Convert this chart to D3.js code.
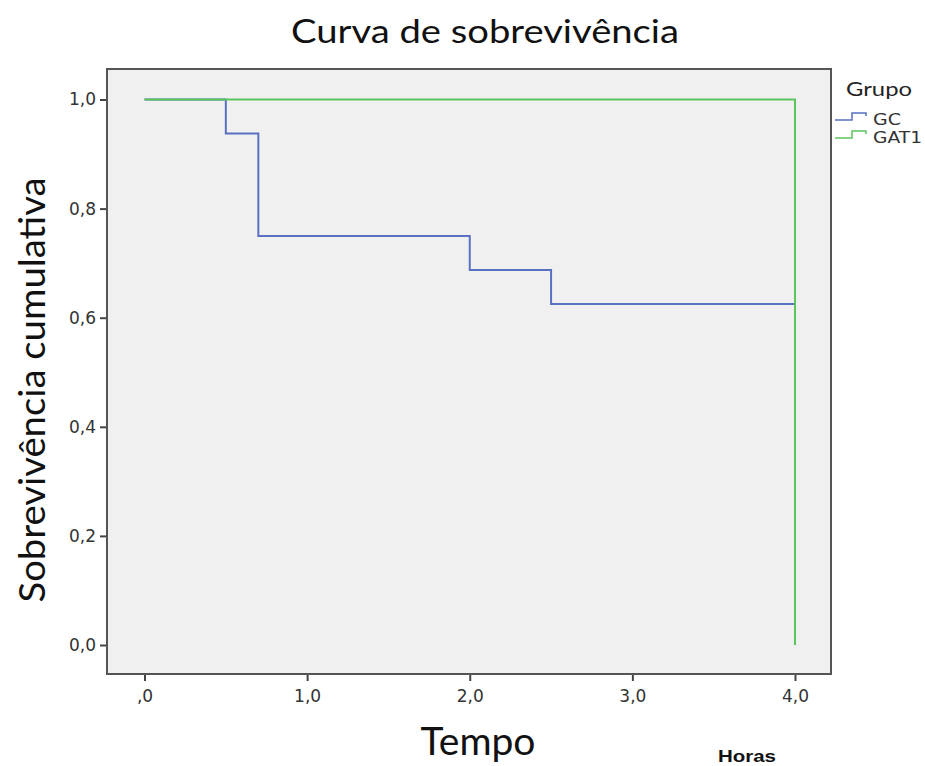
<!DOCTYPE html>
<html>
<head>
<meta charset="utf-8">
<script src="https://cdn.jsdelivr.net/npm/d3@7"></script>
<style>
  body { margin: 0; background: #fff; }
  svg { display: block; }
</style>
</head>
<body>
<svg id="chart" width="925" height="766"></svg>
<script>
// survival steps (time in hours, cumulative survival)
const groups = ['GC', 'GAT1'];
const gcTime = [0, 0.5, 0.7, 2.0, 2.5, 4.0];
const gcSurv = [1.0, 0.9375, 0.75, 0.6875, 0.625, 0.625];
const gat1Time = [0, 4.0, 4.0];
const gat1Surv = [1.0, 1.0, 0.0];
const xTicks = [0, 1, 2, 3, 4];
const yTicks = [0, 0.2, 0.4, 0.6, 0.8, 1.0];
const colors = ['#5a70c2', '#5cc45c'];

const svg = d3.select('#chart');

// frame of the plot area
const frame = { left: 107, top: 69, right: 831, bottom: 674 };

const x = d3.scaleLinear().domain([0, 4]).range([144.5, 795]);
const y = d3.scaleLinear().domain([0, 1]).range([645, 99.5]);

const comma = d => d3.format('.1f')(d).replace('.', ',');

svg.append('rect')
    .attr('x', frame.left).attr('y', frame.top)
    .attr('width', frame.right - frame.left)
    .attr('height', frame.bottom - frame.top)
    .attr('fill', '#f0f0f0')
    .attr('stroke', '#555')
    .attr('stroke-width', 2);

// x axis
const xAxis = d3.axisBottom(x)
    .tickValues(xTicks)
    .tickSize(6)
    .tickSizeOuter(0)
    .tickFormat(d => d === 0 ? ',0' : comma(d));
const gx = svg.append('g')
    .attr('transform', `translate(0,${frame.bottom + 1})`)
    .call(xAxis);
gx.select('.domain').remove();
gx.selectAll('.tick line').attr('stroke', '#444').attr('stroke-width', 2);
gx.selectAll('.tick text')
    .attr('fill', '#333')
    .attr('y', 12)
    .attr('dy', '0.9em')
    .style('font', '17px "DejaVu Sans", sans-serif');

// y axis
const yAxis = d3.axisLeft(y)
    .tickValues(yTicks)
    .tickSize(6)
    .tickSizeOuter(0)
    .tickFormat(comma);
const gy = svg.append('g')
    .attr('transform', `translate(${frame.left - 1},0)`)
    .call(yAxis);
gy.select('.domain').remove();
gy.selectAll('.tick line').attr('stroke', '#444').attr('stroke-width', 2);
gy.selectAll('.tick text')
    .attr('fill', '#333')
    .attr('x', -10)
    .style('font', '17px "DejaVu Sans", sans-serif');

// curves
const line = d3.line()
    .x(d => x(d[0]))
    .y(d => y(d[1]))
    .curve(d3.curveStepAfter);

const series = [
    d3.zip(gcTime, gcSurv),
    d3.zip(gat1Time, gat1Surv)
];

svg.append('g').selectAll('path')
    .data(series)
    .join('path')
    .attr('d', line)
    .attr('fill', 'none')
    .attr('stroke', (d, i) => colors[i])
    .attr('stroke-width', 2);

// title and axis labels
svg.append('text')
    .attr('x', 485).attr('y', 43)
    .attr('text-anchor', 'middle')
    .style('font', '33px Lato, sans-serif')
    .attr('textLength', 388)
    .attr('lengthAdjust', 'spacingAndGlyphs')
    .attr('fill', '#111')
    .text('Curva de sobrevivência');

svg.append('text')
    .attr('transform', 'translate(45,390) rotate(-90)')
    .attr('text-anchor', 'middle')
    .style('font', '36px Lato, sans-serif')
    .attr('textLength', 425)
    .attr('lengthAdjust', 'spacingAndGlyphs')
    .attr('fill', '#111')
    .text('Sobrevivência cumulativa');

svg.append('text')
    .attr('x', 478).attr('y', 755)
    .attr('text-anchor', 'middle')
    .style('font', '38px Lato, sans-serif')
    .attr('textLength', 115)
    .attr('lengthAdjust', 'spacingAndGlyphs')
    .attr('fill', '#111')
    .text('Tempo');

svg.append('text')
    .attr('x', 747).attr('y', 762)
    .attr('text-anchor', 'middle')
    .style('font', 'bold 16px "Liberation Sans", Arial, sans-serif')
    .attr('textLength', 58)
    .attr('lengthAdjust', 'spacingAndGlyphs')
    .attr('fill', '#111')
    .text('Horas');

// legend
const legend = svg.append('g').attr('transform', 'translate(835,0)');
legend.append('text')
    .attr('x', 11).attr('y', 96)
    .style('font', '19px Lato, sans-serif')
    .attr('textLength', 66)
    .attr('lengthAdjust', 'spacingAndGlyphs')
    .attr('fill', '#222')
    .text('Grupo');

const item = legend.selectAll('g.item')
    .data(groups)
    .join('g')
    .attr('class', 'item')
    .attr('transform', (d, i) => `translate(0,${120 + i * 18})`);

item.append('path')
    .attr('d', 'M0,0 H17 V-7 H31 V-4')
    .attr('fill', 'none')
    .attr('stroke', (d, i) => colors[i])
    .attr('stroke-width', 1.5);

item.append('text')
    .attr('x', 38).attr('y', 5)
    .style('font', '16px "DejaVu Sans", sans-serif')
    .attr('textLength', d => d === 'GC' ? 28 : 49)
    .attr('lengthAdjust', 'spacingAndGlyphs')
    .attr('fill', '#333')
    .text(d => d);
</script>
</body>
</html>
